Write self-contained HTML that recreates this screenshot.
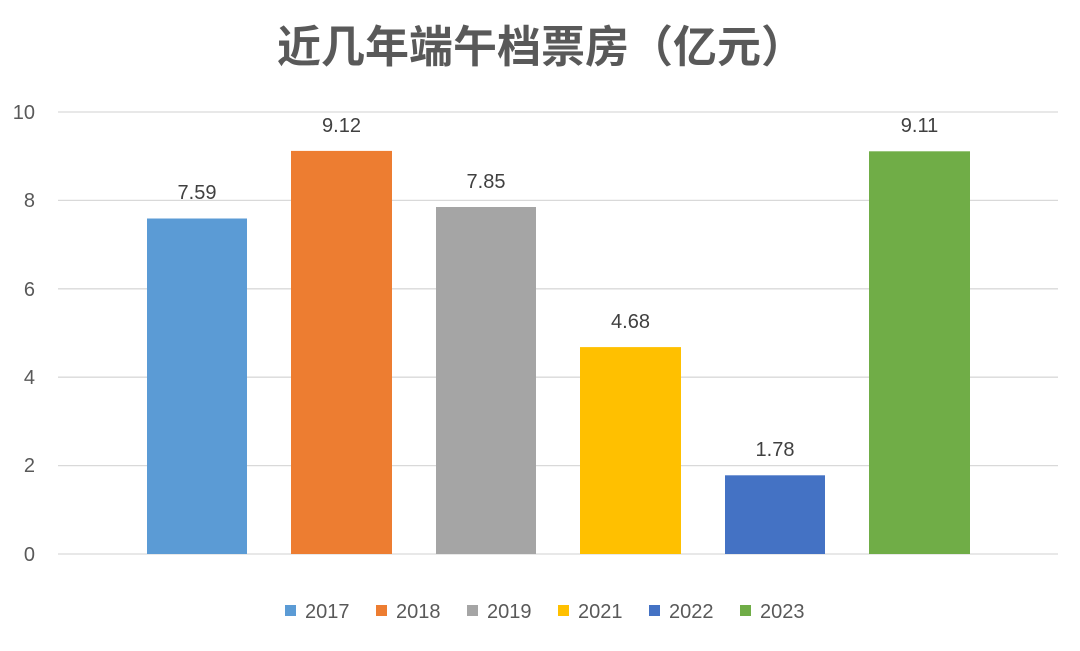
<!DOCTYPE html><html><head><meta charset="utf-8"><style>body{margin:0;background:#fff}</style></head><body>
<svg width="1080" height="646" xmlns="http://www.w3.org/2000/svg" font-family="Liberation Sans, sans-serif">
<rect width="1080" height="646" fill="#fff"/>
<text x="541" y="62" text-anchor="middle" font-size="44" font-weight="bold" fill="#595959" font-family="Liberation Sans, Noto Sans CJK SC, sans-serif">近几年端午档票房（亿元）</text>
<g stroke="#d9d9d9" stroke-width="1.3">
<line x1="58" x2="1058" y1="112" y2="112"/><line x1="58" x2="1058" y1="200.4" y2="200.4"/><line x1="58" x2="1058" y1="288.8" y2="288.8"/><line x1="58" x2="1058" y1="377.2" y2="377.2"/><line x1="58" x2="1058" y1="465.6" y2="465.6"/><line x1="58" x2="1058" y1="554" y2="554"/>
</g>
<g font-size="20" fill="#595959" text-anchor="end">
<text x="35" y="119">10</text><text x="35" y="207">8</text><text x="35" y="296">6</text><text x="35" y="384">4</text><text x="35" y="472">2</text><text x="35" y="561">0</text>
</g>
<rect x="147" y="218.5" width="100" height="335.5" fill="#5b9bd5"/>
<rect x="291" y="150.9" width="101" height="403.1" fill="#ed7d31"/>
<rect x="436" y="207" width="100" height="347" fill="#a5a5a5"/>
<rect x="580" y="347.1" width="101" height="206.9" fill="#ffc000"/>
<rect x="725" y="475.3" width="100" height="78.7" fill="#4472c4"/>
<rect x="869" y="151.3" width="101" height="402.7" fill="#70ad47"/>
<g font-size="20" fill="#404040" text-anchor="middle">
<text x="197" y="199">7.59</text><text x="341.5" y="132">9.12</text><text x="486" y="188">7.85</text><text x="630.5" y="328">4.68</text><text x="775" y="456">1.78</text><text x="919.5" y="132">9.11</text>
</g>
<g font-size="20" fill="#595959">
<rect x="285" y="605" width="11" height="11" fill="#5b9bd5"/><text x="305" y="618">2017</text>
<rect x="376" y="605" width="11" height="11" fill="#ed7d31"/><text x="396" y="618">2018</text>
<rect x="467" y="605" width="11" height="11" fill="#a5a5a5"/><text x="487" y="618">2019</text>
<rect x="558" y="605" width="11" height="11" fill="#ffc000"/><text x="578" y="618">2021</text>
<rect x="649" y="605" width="11" height="11" fill="#4472c4"/><text x="669" y="618">2022</text>
<rect x="740" y="605" width="11" height="11" fill="#70ad47"/><text x="760" y="618">2023</text>
</g>
</svg></body></html>
